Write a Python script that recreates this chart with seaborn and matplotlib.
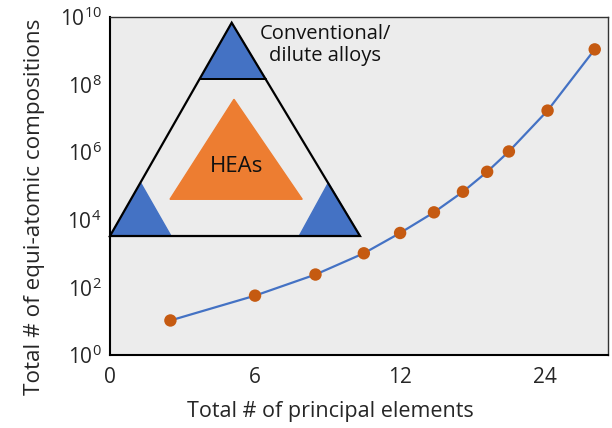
import matplotlib
matplotlib.use("Agg")
import matplotlib.pyplot as plt
import seaborn as sns
import pandas as pd
import numpy as np

# data (x in axis units; axis tick labels as printed in the reference)
elements = [2.5, 6.0, 8.5, 10.5, 12.0, 13.4, 14.6, 15.6, 16.5, 18.1, 20.05]
compositions = [10.5, 57, 240, 1020, 4070, 16600, 67600, 263000, 1.05e6, 1.7e7, 1.1e9]
xtick_pos = [0, 6, 12, 18]
xtick_labels = ["0", "6", "12", "24"]
ytick_vals = [1e0, 1e2, 1e4, 1e6, 1e8, 1e10]
ytick_labels = ["$10^{0}$", "$10^{2}$", "$10^{4}$", "$10^{6}$", "$10^{8}$", "$10^{10}$"]

df = pd.DataFrame({"elements": elements, "compositions": compositions})

sns.set_theme(style="white")
FONT = "Open Sans"
plt.rcParams["font.family"] = [FONT, "DejaVu Sans"]
plt.rcParams["mathtext.fontset"] = "custom"
plt.rcParams["mathtext.rm"] = FONT

fig = plt.figure(figsize=(6.12, 4.28), dpi=100)
ax = fig.add_axes([0.1797, 0.1706, 0.8138, 0.7897])
ax.set_facecolor("#ececec")

sns.lineplot(data=df, x="elements", y="compositions", ax=ax, color="#4472c4", lw=1.6)
sns.scatterplot(data=df, x="elements", y="compositions", ax=ax, color="#c55a11",
                s=80, edgecolor="none", zorder=5)

ax.set_yscale("log")
ax.set_xlim(0, 20.6)
ax.set_ylim(1, 1e10)
ax.set_xticks(xtick_pos)
ax.set_xticklabels(xtick_labels, fontsize=15)
ax.set_yticks(ytick_vals)
ax.set_yticklabels(ytick_labels, fontsize=15)
ax.minorticks_off()
ax.tick_params(direction="in", length=4, width=1, color="black")
ax.tick_params(axis="x", pad=9)
ax.tick_params(axis="y", pad=6)
ax.set_xlabel("Total # of principal elements", fontsize=15.5)
ax.set_ylabel("Total # of equi-atomic compositions", fontsize=16.2)
ax.xaxis.set_label_coords(0.442, -0.137)
ax.yaxis.set_label_coords(-0.13, 0.438)

for side in ["left", "bottom"]:
    ax.spines[side].set_color("black")
    ax.spines[side].set_linewidth(1.5)
for side in ["top", "right"]:
    ax.spines[side].set_color("#333333")
    ax.spines[side].set_linewidth(1.0)

T = ax.transAxes
# big outline triangle
ax.fill([0.0, 0.2444, 0.502], [0.352, 0.983, 0.352], facecolor="none",
        edgecolor="black", lw=1.6, transform=T, zorder=3, clip_on=False)
# blue corner triangles
ax.fill([0.1807, 0.2444, 0.3127], [0.8157, 0.983, 0.8157], color="#4472c4", transform=T, zorder=2, clip_on=False)
ax.plot([0.1807, 0.3127], [0.8157, 0.8157], color="black", lw=1.4, transform=T, zorder=3)
ax.fill([0.0, 0.0616, 0.1225], [0.352, 0.509, 0.352], color="#4472c4", transform=T, zorder=2, clip_on=False)
ax.fill([0.380, 0.4384, 0.502], [0.352, 0.509, 0.352], color="#4472c4", transform=T, zorder=2, clip_on=False)
# orange HEA triangle
ax.fill([0.1205, 0.249, 0.386], [0.4607, 0.7565, 0.4607], color="#ed7d31", transform=T, zorder=2)

ax.text(0.254, 0.557, "HEAs", transform=T, ha="center", va="center", fontsize=16, color="#111111", zorder=4)
ax.text(0.432, 0.917, "Conventional/\ndilute alloys", transform=T, ha="center", va="center",
        fontsize=14.5, color="#111111", linespacing=1.1, zorder=4)

fig.savefig("out.png", dpi=100)
